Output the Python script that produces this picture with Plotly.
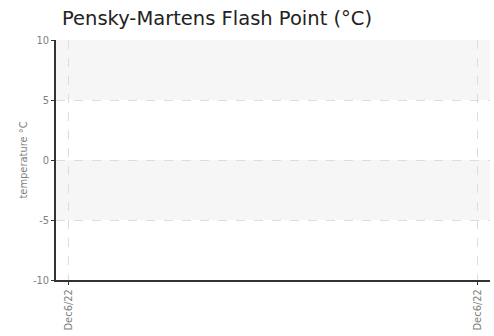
import plotly.graph_objects as go

# Data
dates = ["Dec6/22", "Dec6/22"]
x_positions = [0, 1]
flash_point = [None, None]  # no readings visible
y_ticks = [-10, -5, 0, 5, 10]
y_tick_labels = ["-10", "-5", "0", "5", "10"]
bands = [(5, 10), (-5, 0)]

fig = go.Figure()
fig.add_trace(go.Scatter(x=x_positions, y=flash_point, mode="lines+markers",
                         line=dict(color="#4a7ebb"), showlegend=False))

for y0, y1 in bands:
    fig.add_shape(type="rect", xref="paper", yref="y", x0=0, x1=1, y0=y0, y1=y1,
                  fillcolor="#f6f6f6", line=dict(width=0), layer="below")

tick_font = dict(family="DejaVu Sans Condensed", size=11, color="#808080")

fig.update_layout(
    width=494, height=336,
    margin=dict(l=56, r=4, t=40, b=56),
    paper_bgcolor="white", plot_bgcolor="white",
    title=dict(text="Pensky-Martens Flash Point (°C)", x=62 / 494, xanchor="left",
               y=1 - 18 / 336, yanchor="middle",
               font=dict(family="DejaVu Sans", size=19.5, color="#222222")),
    xaxis=dict(range=[-0.03, 1.03], tickvals=x_positions, ticktext=dates, tickangle=-90,
               automargin=False,
               showgrid=True, gridcolor="#dddddd", griddash="dash", gridwidth=1,
               showline=True, linecolor="#333333", linewidth=1.5,
               ticks="outside", ticklen=3, tickcolor="#333333",
               tickfont=tick_font, zeroline=False),
    yaxis=dict(range=[-10, 10], tickvals=y_ticks, ticktext=y_tick_labels,
               automargin=False,
               showgrid=True, gridcolor="#dddddd", griddash="dash", gridwidth=1,
               showline=True, linecolor="#333333", linewidth=1.5,
               ticks="outside", ticklen=3, tickcolor="#333333",
               tickfont=tick_font, zeroline=False,
               title=dict(text="temperature °C", standoff=3,
                          font=dict(family="DejaVu Sans Condensed", size=11, color="#808080"))),
)

fig.write_html("out.html", config={"displayModeBar": False},
               post_script="document.body.style.margin='0';")
